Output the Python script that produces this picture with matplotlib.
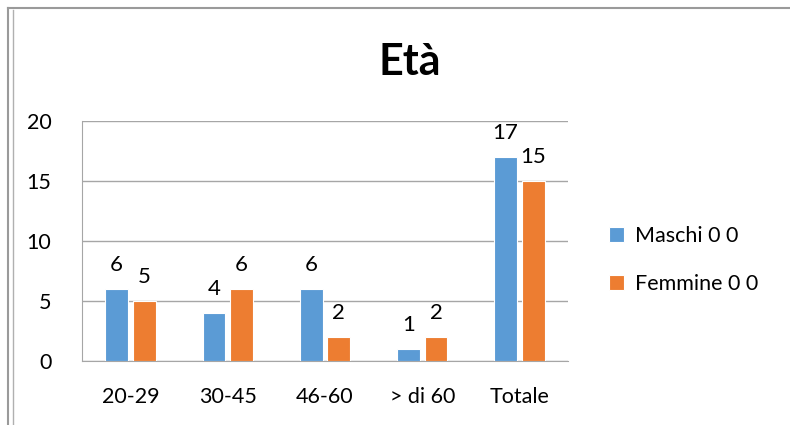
import matplotlib.pyplot as plt
import numpy as np
from matplotlib.lines import Line2D

categories = ["20-29", "30-45", "46-60", "> di 60", "Totale"]
maschi = [6, 4, 6, 1, 17]
femmine = [5, 6, 2, 2, 15]

plt.rcParams['font.family'] = ['Lato', 'DejaVu Sans']

fig = plt.figure(figsize=(7.9, 4.25), dpi=100)
# plot area in pixels: x 82..568, y 121..361
ax = fig.add_axes([82 / 790, (425 - 361) / 425, (568 - 82) / 790, (361 - 121) / 425])

x = np.arange(len(categories))
w = 0.235
b1 = ax.bar(x - w / 2 - 0.025, maschi, w, color="#5B9BD5", edgecolor="white", linewidth=0.8,
            label="Maschi 0 0", zorder=3)
b2 = ax.bar(x + w / 2 + 0.025, femmine, w, color="#ED7D31", edgecolor="white", linewidth=0.8,
            label="Femmine 0 0", zorder=3)
ax.bar_label(b1, padding=10, fontsize=16)
ax.bar_label(b2, padding=10, fontsize=16)

ax.set_xlim(-0.5, len(categories) - 0.5)
ax.set_ylim(0, 20)
ax.set_yticks([0, 5, 10, 15, 20])
ax.set_xticks(x)
ax.set_xticklabels(categories)
ax.tick_params(axis="both", length=0, labelsize=15.5)
ax.tick_params(axis="x", pad=19)
ax.tick_params(axis="y", pad=22)
ax.yaxis.grid(True, color="#a6a6a6", linewidth=1, zorder=0)
ax.set_axisbelow(True)
for s in ["top", "right"]:
    ax.spines[s].set_visible(False)
ax.spines["left"].set_color("#a6a6a6")
ax.spines["bottom"].set_color("#a6a6a6")

fig.text(410 / 790, 1 - 62 / 425, "Età", ha="center", va="center", fontsize=31, fontweight="bold")

fig.legend(loc="center left", bbox_to_anchor=(590 / 790, 1 - 260 / 425), frameon=False,
           fontsize=15.5, handlelength=0.7, handleheight=0.7, labelspacing=1.3, handletextpad=0.5)

# outer frame (top + double left line)
fig.add_artist(Line2D([8 / 790, 1], [1 - 8 / 425, 1 - 8 / 425], color="#9a9a9a", linewidth=1.5))
fig.add_artist(Line2D([8 / 790, 8 / 790], [0, 1 - 8 / 425], color="#9a9a9a", linewidth=1.5))
fig.add_artist(Line2D([13 / 790, 13 / 790], [0, 1 - 10 / 425], color="#b0b0b0", linewidth=1))

fig.savefig("out.png", dpi=100)
